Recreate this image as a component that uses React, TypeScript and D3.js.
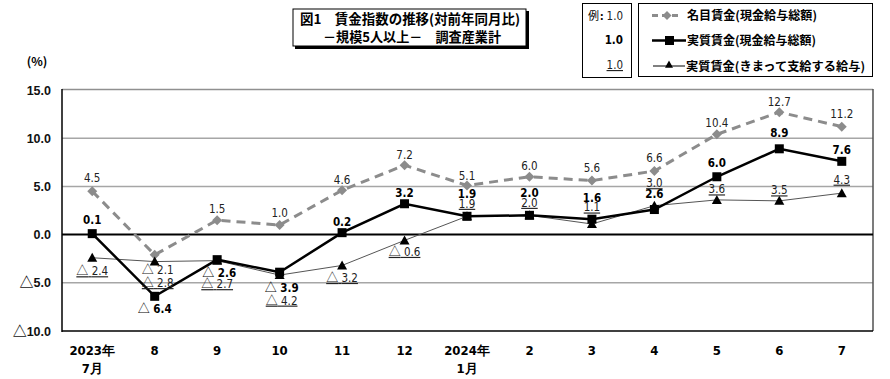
import React from "react";
import * as d3 from "d3";

const xLabels1 = ["2023年", "8", "9", "10", "11", "12", "2024年", "2", "3", "4", "5", "6", "7"];
const xLabels2 = ["7月", "", "", "", "", "", "1月", "", "", "", "", "", ""];
const nominal = [4.5, -2.1, 1.5, 1.0, 4.6, 7.2, 5.1, 6.0, 5.6, 6.6, 10.4, 12.7, 11.2];
const realTotal = [0.1, -6.4, -2.6, -3.9, 0.2, 3.2, 1.9, 2.0, 1.6, 2.6, 6.0, 8.9, 7.6];
const realRegular = [-2.4, -2.8, -2.7, -4.2, -3.2, -0.6, 1.9, 2.0, 1.1, 3.0, 3.6, 3.5, 4.3];
const yTicks = [15, 10, 5, 0, -5, -10];
const seriesNames = ["名目賃金(現金給与総額)", "実質賃金(現金給与総額)", "実質賃金(きまって支給する給与)"];

// label placement (pixel offsets of label centre from its point)
const nominalDy = [-14, 15, -12, -12, -11, -11, -10, -11, -13, -13, -12, -11, -13];
const totalDy = [-14, 12, 13, 15, -11, -11, -23, -23, -22, -16, -14, -16, -12];
const regularDy = [13, 21, 23, 25, 12, 11, -13, -13, -17, -23, -11, -11, -14];
const nominalDx = [0, 3, 0, 0, 0, 0, 0, 0, 0, 0, 0, 0, 0];
const totalDx = [0, 0, 2, 2, 0, 0, 0, 0, 0, 0, 0, 0, 0];
const regularDx = [0, 3, 0, 2, 0, 0, 0, 0, 0, 0, 0, 0, 0];

const W = 890;
const H = 379;
const numFont = "'Liberation Sans Narrow', 'DejaVu Sans Condensed', 'Liberation Sans', sans-serif";
const jpFont = "'Noto Sans CJK JP', 'Noto Sans', sans-serif";

function Num({ v }: { v: number }) {
  if (v < 0) {
    return (
      <>
        <tspan fontFamily={jpFont} fontWeight="normal" fontSize={12}>△</tspan>
        <tspan> {Math.abs(v).toFixed(1)}</tspan>
      </>
    );
  }
  return <>{v.toFixed(1)}</>;
}

export default function App() {
  const idx = xLabels1.map((_, i) => i);
  const xb = d3.scaleBand<number>().domain(idx).range([61, 873]).padding(0);
  const x = (i: number) => (xb(i) as number) + xb.bandwidth() / 2;
  const y = d3.scaleLinear().domain([-10, 15]).range([331, 90]);
  const line = d3
    .line<number>()
    .x((_, i) => x(i))
    .y((d) => y(d));

  const left = 62;
  const right = 873;
  const top = 90;
  const bottom = 331;

  const diamond = (cx: number, cy: number, r: number) =>
    `M${cx},${cy - r}L${cx + r},${cy}L${cx},${cy + r}L${cx - r},${cy}Z`;
  const tri = (cx: number, cy: number, r: number) =>
    `M${cx},${cy - r}L${cx + r},${cy + r * 0.8}L${cx - r},${cy + r * 0.8}Z`;

  return (
    <svg
      width={W}
      height={H}
      style={{ position: "absolute", left: 0, top: 0, background: "#fff" }}
      xmlns="http://www.w3.org/2000/svg"
    >
      <rect x={0} y={0} width={W} height={H} fill="#fff" />
      {/* Title box */}
      <rect x={295} y={11} width={234} height={38} fill="#000" />
      <rect x={293} y={9} width={233} height={37} fill="#fff" stroke="#000" strokeWidth={1} />
      <text x={300} y={24} fontFamily={jpFont} fontWeight="bold" fontSize={13.5} textLength={220} lengthAdjust="spacingAndGlyphs">
        図1　賃金指数の推移(対前年同月比)
      </text>
      <text x={323} y={42} fontFamily={jpFont} fontWeight="bold" fontSize={13.5} textLength={178} lengthAdjust="spacingAndGlyphs">
        －規模5人以上－　調査産業計
      </text>

      {/* Legend example box */}
      <rect x={582.5} y={3.5} width={49} height={74} fill="#fff" stroke="#000" strokeWidth={1} />
      <text x={588} y={20} fontFamily={jpFont} fontSize={11}>例</text>
      <text x={600} y={20} fontFamily={jpFont} fontSize={11} fontWeight="bold">:</text>
      <text x={623} y={20} fontFamily={numFont} fontSize={11.5} textAnchor="end" fill="#222">1.0</text>
      <text x={623} y={44} fontFamily={numFont} fontSize={11.5} fontWeight="bold" textAnchor="end">1.0</text>
      <text x={623} y={69} fontFamily={numFont} fontSize={11.5} textAnchor="end" fill="#222" textDecoration="underline">1.0</text>

      {/* Legend series box */}
      <rect x={638.5} y={3.5} width={234} height={73} fill="#fff" stroke="#000" strokeWidth={1} />
      <line x1={652} x2={682} y1={15.5} y2={15.5} stroke="#8c8c8c" strokeWidth={3} strokeDasharray="6,4" />
      <path d={diamond(667, 15.5, 4.5)} fill="#8c8c8c" />
      <line x1={652} x2={686} y1={40.5} y2={40.5} stroke="#000" strokeWidth={2.5} />
      <rect x={665} y={36} width={9} height={9} fill="#000" />
      <line x1={653} x2={685} y1={66} y2={66} stroke="#000" strokeWidth={1} />
      <path d={tri(669, 64.5, 4)} fill="#000" />
      <text x={687} y={20} fontFamily={jpFont} fontWeight="bold" fontSize={12} textLength={130} lengthAdjust="spacingAndGlyphs">
        {seriesNames[0]}
      </text>
      <text x={687} y={45} fontFamily={jpFont} fontWeight="bold" fontSize={12} textLength={129} lengthAdjust="spacingAndGlyphs">
        {seriesNames[1]}
      </text>
      <text x={686} y={71} fontFamily={jpFont} fontWeight="bold" fontSize={12} textLength={179} lengthAdjust="spacingAndGlyphs">
        {seriesNames[2]}
      </text>

      {/* (%) */}
      <text x={37} y={66} fontFamily={jpFont} fontWeight="bold" fontSize={12} textAnchor="middle">(%)</text>

      {/* Grid lines */}
      {yTicks
        .filter((t) => t !== 0 && t !== 15 && t !== -10)
        .map((t) => (
          <line key={t} x1={left} x2={right} y1={y(t)} y2={y(t)} stroke="#a6a6a6" strokeWidth={1.5} />
        ))}
      {/* Frame */}
      <line x1={left} x2={right} y1={top - 0.5} y2={top - 0.5} stroke="#909090" strokeWidth={1.5} />
      <line x1={right} x2={right} y1={top - 1} y2={bottom} stroke="#505050" strokeWidth={1.5} />
      <line x1={left} x2={left} y1={top - 1} y2={bottom + 1} stroke="#000" strokeWidth={1.5} />
      <line x1={left} x2={right} y1={bottom} y2={bottom} stroke="#000" strokeWidth={1.5} />
      <line x1={left} x2={right} y1={y(0)} y2={y(0)} stroke="#000" strokeWidth={2} />

      {/* Y tick labels */}
      {yTicks.map((t) => (
        <text
          key={t}
          x={51}
          y={y(t) + 4.5}
          fontFamily="'Liberation Sans', Arial, sans-serif"
          fontWeight="bold"
          fontSize={12.5}
          textAnchor="end"
          fill="#111"
        >
          {t < 0 ? (
            <>
              <tspan fontFamily={jpFont} fontWeight="bold" fontSize={14}>△</tspan>
              <tspan>{Math.abs(t).toFixed(1)}</tspan>
            </>
          ) : (
            t.toFixed(1)
          )}
        </text>
      ))}

      {/* X tick labels */}
      {idx.map((i) => (
        <g key={i}>
          <text x={x(i)} y={355} fontFamily={numFont} fontWeight="bold" fontSize={13} textAnchor="middle">
            {xLabels1[i]}
          </text>
          {xLabels2[i] && (
            <text x={x(i)} y={373} fontFamily={numFont} fontWeight="bold" fontSize={13} textAnchor="middle">
              {xLabels2[i]}
            </text>
          )}
        </g>
      ))}

      {/* Nominal series */}
      <path d={line(nominal) || ""} fill="none" stroke="#8c8c8c" strokeWidth={3} strokeDasharray="9,6" />
      {nominal.map((v, i) => (
        <path key={i} d={diamond(x(i), y(v), 5)} fill="#8c8c8c" />
      ))}

      {/* Real regular series */}
      <path d={line(realRegular) || ""} fill="none" stroke="#555" strokeWidth={1} />
      {realRegular.map((v, i) => (
        <path key={i} d={tri(x(i), y(v), 5)} fill="#000" />
      ))}

      {/* Real total series */}
      <path d={line(realTotal) || ""} fill="none" stroke="#000" strokeWidth={2.5} />
      {realTotal.map((v, i) => (
        <rect key={i} x={x(i) - 4.5} y={y(v) - 4.5} width={9} height={9} fill="#000" />
      ))}

      {/* Labels */}
      {nominal.map((v, i) => (
        <text
          key={"n" + i}
          x={x(i) + nominalDx[i]}
          y={y(v) + nominalDy[i] + 4.5}
          fontFamily={numFont}
          fontSize={11.5}
          textAnchor="middle"
          fill="#222"
        >
          <Num v={v} />
        </text>
      ))}
      {realRegular.map((v, i) => (
        <text
          key={"r" + i}
          x={x(i) + regularDx[i]}
          y={y(v) + regularDy[i] + 4.5}
          fontFamily={numFont}
          fontSize={11.5}
          textAnchor="middle"
          fill="#222"
          textDecoration="underline"
        >
          <Num v={v} />
        </text>
      ))}
      {realTotal.map((v, i) => (
        <text
          key={"t" + i}
          x={x(i) + totalDx[i]}
          y={y(v) + totalDy[i] + 4.5}
          fontFamily={numFont}
          fontSize={11.5}
          fontWeight="bold"
          textAnchor="middle"
          fill="#000"
        >
          <Num v={v} />
        </text>
      ))}
    </svg>
  );
}
